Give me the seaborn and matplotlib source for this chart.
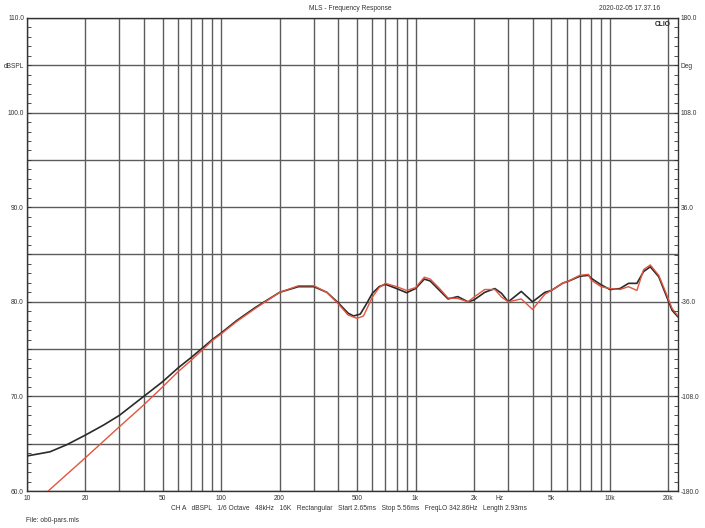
import numpy as np
import pandas as pd
import seaborn as sns
import matplotlib.pyplot as plt
from matplotlib.ticker import FixedLocator, FixedFormatter

# --- curva preta (medida 1) ---
freq_black = [10, 11.7, 13.2, 16.1, 20, 25, 30, 40, 50, 60, 70, 80, 90, 100, 120, 150,
              200, 250, 300, 350, 400, 450, 480, 520, 560, 600, 650, 700, 800, 900,
              1000, 1110, 1190, 1330, 1470, 1650, 1860, 2000, 2270, 2560, 2770,
              3000, 3500, 4000, 4630, 5000, 5750, 6000, 7000, 7760, 8000, 9000,
              10000, 11270, 12460, 13770, 14900, 16130, 17830, 19280, 20890, 22400]
spl_black = [63.7, 63.95, 64.15, 64.9, 65.9, 67.0, 68.0, 70.0, 71.55, 73.0, 74.1, 75.1,
             76.0, 76.7, 78.0, 79.4, 81.0, 81.6, 81.6, 81.0, 79.9, 78.8, 78.5, 78.7,
             79.8, 80.9, 81.6, 81.85, 81.4, 80.96, 81.4, 82.4, 82.2, 81.2, 80.3, 80.55,
             80.0, 80.2, 81.0, 81.4, 80.9, 80.0, 81.1, 80.0, 81.0, 81.2, 82.0, 82.1,
             82.7, 82.8, 82.5, 81.8, 81.3, 81.4, 81.95, 81.95, 83.2, 83.7, 82.65, 80.9,
             79.1, 78.4]

# --- curva vermelha (medida 2) ---
freq_red = [12.9, 20, 30, 40, 50, 60, 70, 80, 90, 100, 120, 150, 200, 250, 300,
            350, 400, 450, 500, 540, 600, 650, 700, 800, 900, 1000, 1110, 1190, 1330,
            1470, 1650, 1860, 2000, 2270, 2560, 2770, 3000, 3500, 4000, 4630, 5000,
            5750, 6000, 7000, 7760, 8000, 9000, 10000, 11270, 12460, 13770, 14900,
            16130, 17830, 19280, 20890, 22400]
spl_red = [60.0, 63.5, 66.8, 69.1, 71.0, 72.6, 73.8, 74.9, 75.9, 76.6, 77.9, 79.3,
           81.0, 81.7, 81.7, 81.0, 79.8, 78.6, 78.25, 78.5, 80.5, 81.5, 81.95, 81.6,
           81.2, 81.5, 82.6, 82.4, 81.4, 80.4, 80.35, 80.0, 80.5, 81.3, 81.3, 80.5,
           80.0, 80.3, 79.2, 80.8, 81.2, 82.0, 82.1, 82.8, 82.9, 82.3, 81.6, 81.4,
           81.3, 81.6, 81.2, 83.4, 83.9, 82.8, 81.1, 79.3, 78.5]

# eixos e rótulos
grid_freqs = [m * 10 ** e for e in range(1, 5) for m in range(1, 10) if m * 10 ** e <= 20000]
x_label_map = {10: '10', 20: '20', 50: '50', 100: '100', 200: '200', 500: '500',
               1000: '1k', 2000: '2k', 5000: '5k', 10000: '10k', 20000: '20k'}
y_grid = list(range(60, 111, 5))
y_labels = ['60.0', '', '70.0', '', '80.0', '', '90.0', '', '100.0', 'dBSPL', '110.0']
deg_ticks = [-180, -144, -108, -72, -36, 0, 36, 72, 108, 144, 180]
deg_labels = ['-180.0', '', '-108.0', '', '-36.0', '', '36.0', '', '108.0', 'Deg', '180.0']

info_line = ('CH A   dBSPL   1/6 Octave   48kHz   16K   Rectangular   Start 2.65ms   '
             'Stop 5.56ms   FreqLO 342.86Hz   Length 2.93ms')

sns.set_style('white')
plt.rcParams['font.family'] = ['Liberation Sans', 'DejaVu Sans']
fs = 4.8
grid_col = '#5c5c5c'

fig = plt.figure(figsize=(7.05, 5.28), dpi=100)
ax = fig.add_axes([26.7 / 705, 1 - 491 / 528, (678 - 26.7) / 705, (491 - 18) / 528])

df_black = pd.DataFrame({'freq': freq_black, 'spl': spl_black})
df_red = pd.DataFrame({'freq': freq_red, 'spl': spl_red})
sns.lineplot(data=df_black, x='freq', y='spl', color='#2a2a2a', linewidth=1.2, ax=ax, zorder=3)
sns.lineplot(data=df_red, x='freq', y='spl', color='#e2553f', linewidth=1.0, ax=ax, zorder=4)

ax.set_xscale('log')
ax.set_xlim(10, 22400)
ax.set_ylim(60, 110)
ax.set_xlabel('')
ax.set_ylabel('')

ax.xaxis.set_major_locator(FixedLocator(grid_freqs))
ax.xaxis.set_major_formatter(FixedFormatter([x_label_map.get(f, '') for f in grid_freqs]))
ax.xaxis.set_minor_locator(FixedLocator([]))
ax.yaxis.set_major_locator(FixedLocator(y_grid))
ax.yaxis.set_major_formatter(FixedFormatter(y_labels))
ax.yaxis.set_minor_locator(FixedLocator(range(60, 111)))
ax.grid(True, which='major', color=grid_col, linewidth=1.0)
ax.tick_params(axis='x', which='both', length=0, pad=3, labelsize=fs, colors='#333333')
ax.tick_params(axis='y', which='both', direction='in', length=3, width=0.6,
               pad=2, labelsize=fs, colors='#333333')
for s in ax.spines.values():
    s.set_color('#333333')
    s.set_linewidth(1.0)

ax2 = ax.twinx()
ax2.set_ylim(-180, 180)
ax2.yaxis.set_major_locator(FixedLocator(deg_ticks))
ax2.yaxis.set_major_formatter(FixedFormatter(deg_labels))
ax2.yaxis.set_minor_locator(FixedLocator(np.arange(-180, 181, 7.2)))
ax2.tick_params(axis='y', which='both', direction='in', length=3, width=0.6,
                pad=2, labelsize=fs, colors='#333333')
ax2.grid(False)
for s in ax2.spines.values():
    s.set_visible(False)

# "Hz" fica na linha dos rótulos do eixo x, entre 2k e 5k
ax.text(2720, -0.009, 'Hz', transform=ax.get_xaxis_transform(), ha='center', va='top',
        fontsize=fs, color='#333333')
ax.text(0.988, 0.993, 'CLIO', transform=ax.transAxes, ha='right', va='top',
        fontsize=4.8, fontweight='bold', color='#222222')

fig.text(350 / 705, 1 - 9 / 528, 'MLS - Frequency Response', ha='center', va='center',
         fontsize=fs, color='#333333')
fig.text(630 / 705, 1 - 9 / 528, '2020-02-05 17.37.16', ha='center', va='center',
         fontsize=fs, color='#333333')
fig.text(349 / 705, 1 - 509 / 528, info_line, ha='center', va='center',
         fontsize=fs, color='#333333')
fig.text(26 / 705, 1 - 520 / 528, 'File: ob0-pars.mls', ha='left', va='center',
         fontsize=fs, color='#333333')

fig.savefig('out.png', dpi=100, facecolor='white')
